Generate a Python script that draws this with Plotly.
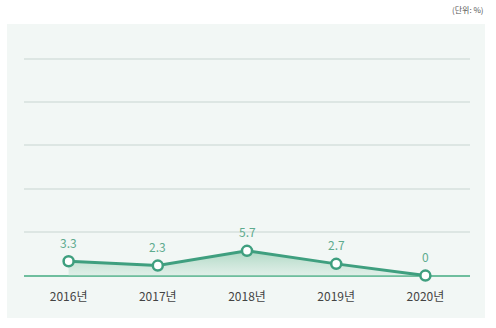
import plotly.graph_objects as go

years = ["2016년", "2017년", "2018년", "2019년", "2020년"]
values = [3.3, 2.3, 5.7, 2.7, 0]
labels = ["3.3", "2.3", "5.7", "2.7", "0"]
unit_text = "(단위: %)"

W, H = 496, 328
ml, mr, mt, mb = 24, 26, 57, 52
pw, ph = W - ml - mr, H - mt - mb

def px_x(x):
    return (x - ml) / pw

def px_y(y):
    return (H - mb - y) / ph

line_col = "#3f9f7f"
font_fam = "Noto Sans CJK KR, Noto Sans, sans-serif"

fig = go.Figure()
fig.add_trace(go.Scatter(
    x=years, y=values, mode="lines+markers",
    line=dict(color=line_col, width=3),
    marker=dict(size=10, color="white", line=dict(color=line_col, width=2.5)),
    fill="tozeroy",
    fillgradient=dict(type="vertical",
                      colorscale=[[0, "rgba(205,230,218,0.5)"], [1, "rgba(160,210,186,0.85)"]]),
    hoverinfo="skip", cliponaxis=False,
))

for x, v, t in zip(years, values, labels):
    fig.add_annotation(x=x, y=v, text=t, showarrow=False, yshift=19,
                       font=dict(size=12, color="#5eab8e", family=font_fam))

fig.add_shape(type="rect", xref="paper", yref="paper",
              x0=px_x(7), x1=px_x(485), y0=px_y(318), y1=px_y(24),
              fillcolor="#f2f7f5", line=dict(width=0), layer="below")

fig.add_annotation(xref="paper", yref="paper", x=px_x(486), y=px_y(10),
                   xanchor="right", yanchor="middle", text=unit_text, showarrow=False,
                   font=dict(size=8, color="#555555", family=font_fam))

fig.update_layout(
    width=W, height=H, margin=dict(l=ml, r=mr, t=mt, b=mb),
    paper_bgcolor="white", plot_bgcolor="rgba(0,0,0,0)",
    showlegend=False,
    xaxis=dict(range=[-0.5, 4.5], showgrid=False, zeroline=False, showline=False,
               ticks="", tickfont=dict(size=12, color="#444444", family=font_fam),
               ticklabelstandoff=12),
    yaxis=dict(range=[-0.1, 50.4], tickvals=[0, 10, 20, 30, 40, 50], showticklabels=False,
               showgrid=True, gridcolor="#dde6e3", gridwidth=2,
               zeroline=True, zerolinecolor="#6fbe9e", zerolinewidth=2, showline=False),
)

fig.write_html("out.html")
